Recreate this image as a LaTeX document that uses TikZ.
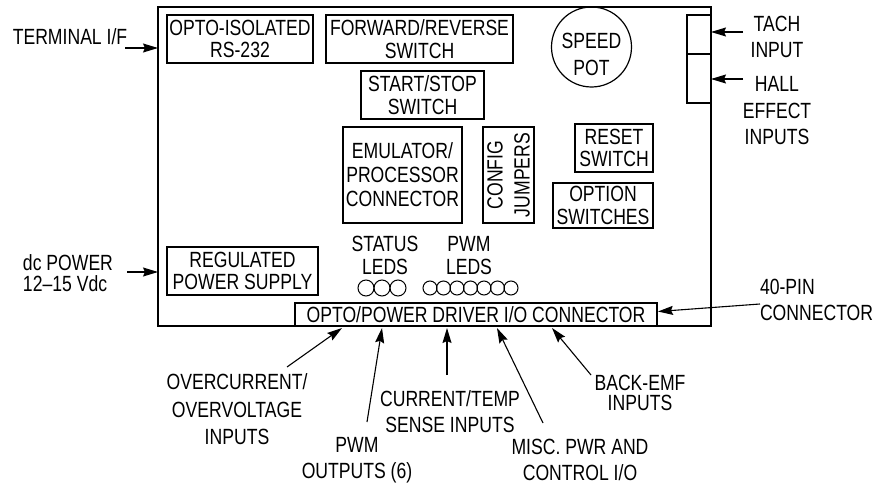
\documentclass[tikz,border=0pt]{standalone}
\usepackage{fontspec}
\setmainfont[FakeStretch=0.8]{Liberation Sans}
\usetikzlibrary{arrows.meta,calc}
\begin{document}
\begin{tikzpicture}[x=1pt,y=-1pt,
  every node/.style={inner sep=0pt,outer sep=0pt},
  part/.style={draw,line width=1.2pt,minimum width=#1,align=center,font=\fontsize{22}{22.5}\selectfont},
  lbl/.style={align=center,font=\fontsize{22}{26.5}\selectfont},
  arr/.style={line width=1.1pt,-{Stealth[length=15pt,width=9pt,inset=2pt]}},
  led/.style={line width=1pt}]
\useasboundingbox (0,0) rectangle (878,487);
% board
\node[draw,line width=1.3pt,minimum width=553pt,minimum height=319pt] (board) at (434.5,166.5) {};
% parts
\node[part=146pt,minimum height=48pt] (opto) at (240,39) {OPTO-ISOLATED\\RS-232};
\node[part=187pt,minimum height=48pt] (fwd) at (419.5,39) {FORWARD/REVERSE\\SWITCH};
\node[part=123pt,minimum height=48pt] (start) at (422.5,95) {START/STOP\\SWITCH};
\node[draw,circle,line width=1.2pt,minimum size=80pt] (pot) at (591.5,47) {};
\node[lbl,font=\fontsize{22}{27}\selectfont] (pottxt) at (591.5,54) {SPEED\\POT};
\node[part=24pt,minimum height=39pt] (tach) at (699,34.5) {};
\node[part=24pt,minimum height=49pt] (hall) at (699,78.5) {};
\node[part=119pt,minimum height=96pt,font=\fontsize{22}{24}\selectfont] (emu) at (402.5,175) {EMULATOR/\\PROCESSOR\\CONNECTOR};
\node[draw,line width=1.2pt,minimum width=51pt,minimum height=96pt] (cfg) at (508.5,175) {};
\node[lbl,rotate=90,font=\fontsize{22}{27}\selectfont] (cfgtxt) at (cfg.center) {CONFIG\\JUMPERS};
\node[part=78pt,minimum height=48pt] (reset) at (614,148) {RESET\\SWITCH};
\node[part=100pt,minimum height=45pt] (option) at (603,205.5) {OPTION\\SWITCHES};
\node[part=151pt,minimum height=48pt] (reg) at (242.5,271) {REGULATED\\POWER SUPPLY};
\node[part=362pt,minimum height=23pt] (conn) at (476,314.5) {OPTO/POWER DRIVER I/O CONNECTOR};
% LEDs
\node[lbl,font=\fontsize{22}{23}\selectfont] (status) at (385,255.5) {STATUS\\LEDS};
\node[lbl,font=\fontsize{22}{23}\selectfont] (pwmleds) at (469,255.5) {PWM\\LEDS};
\foreach \x in {366,382,398} \draw[led] (\x,288) circle (8);
\foreach \k in {0,...,6} \draw[led] (430+13.5*\k,288) circle (7);
% left labels
\node[lbl] (term) at (70,37) {TERMINAL I/F};
\coordinate (termA) at (125,48);
\draw[arr] (termA) -- (termA -| board.west);
\node[lbl,align=left,anchor=west,font=\fontsize{22}{21}\selectfont] (dcp) at (23,273) {dc POWER\\12–15 Vdc};
\coordinate (dcA) at (127,272);
\draw[arr] (dcA) -- (dcA -| board.west);
% right labels
\node[lbl] (tachl) at (777,37) {TACH\\INPUT};
\coordinate (tachA) at (743,32);
\draw[arr] (tachA) -- (tachA -| tach.east);
\node[lbl] (halll) at (777,111) {HALL\\EFFECT\\INPUTS};
\coordinate (hallA) at (743,79);
\draw[arr] (hallA) -- (hallA -| hall.east);
\node[lbl,align=left,anchor=west] (pinl) at (760,300) {40-PIN\\CONNECTOR};
\coordinate (pinA) at (760,304);
\draw[arr] (pinA) -- ($(conn.east)+(1,-3)$);
% bottom labels
\node[lbl,font=\fontsize{22}{27.5}\selectfont] (ovl) at (237,409.5) {OVERCURRENT/\\OVERVOLTAGE\\INPUTS};
\coordinate (ovA) at (287,367);
\coordinate (ovB) at (342,328);
\draw[arr] (ovA) -- (ovB);
\node[lbl] (pwml) at (357,460) {PWM\\OUTPUTS (6)};
\coordinate (pwA) at (367,422);
\coordinate (pwB) at (382,328);
\draw[arr] (pwA) -- (pwB);
\node[lbl] (curl) at (450,411.5) {CURRENT/TEMP\\SENSE INPUTS};
\coordinate (cuA) at (447,375);
\coordinate (cuB) at (447,328);
\draw[arr] (cuA) -- (cuB);
\node[lbl] (miscl) at (580,460) {MISC. PWR AND\\CONTROL I/O};
\coordinate (miA) at (543,423);
\coordinate (miB) at (497,328);
\draw[arr] (miA) -- (miB);
\node[lbl,font=\fontsize{22}{20}\selectfont] (bemf) at (640,392.5) {BACK-EMF\\INPUTS};
\coordinate (beA) at (591,375);
\coordinate (beB) at (552,328);
\draw[arr] (beA) -- (beB);
\end{tikzpicture}
\end{document}
